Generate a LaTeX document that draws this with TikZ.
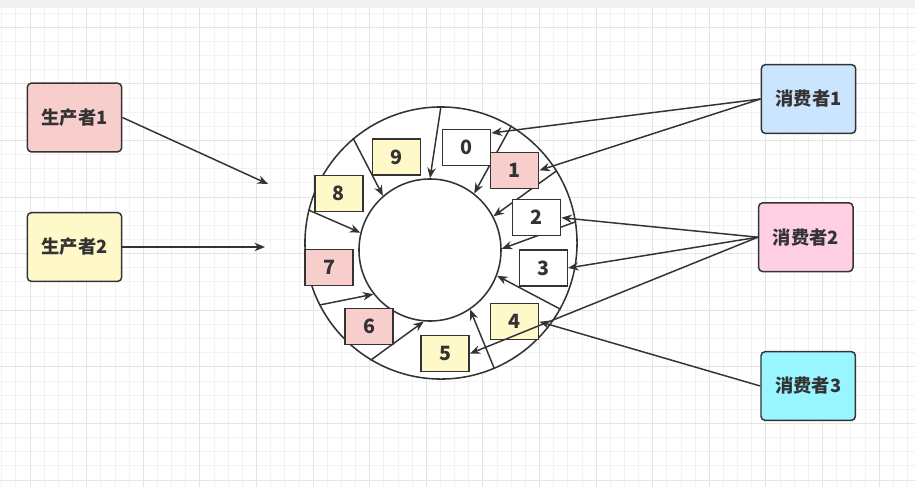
\documentclass[tikz,border=0pt]{standalone}
\usepackage{fontspec}
\setmainfont{Noto Sans CJK SC}
\usetikzlibrary{arrows.meta}
\definecolor{ink}{HTML}{333333}
\definecolor{rosefill}{HTML}{F8CECC}
\definecolor{lemonfill}{HTML}{FFF9C9}
\definecolor{skyfill}{HTML}{CCE5FF}
\definecolor{pinkfill}{HTML}{FFD0E4}
\definecolor{cyanfill}{HTML}{99F5FF}
\definecolor{gridminor}{HTML}{F2F2F2}
\definecolor{gridmajor}{HTML}{E4E4E4}
\begin{document}
\begin{tikzpicture}
  [x=0.025cm,y=-0.025cm,line width=1.05pt,draw=ink,
   every node/.style={draw=ink,text=ink,inner sep=0,font=\bfseries\fontsize{13}{15}\selectfont},
   actor/.style={rounded corners=3pt,minimum width=2.36cm,minimum height=1.72cm},
   slot/.style={minimum width=1.2cm,minimum height=0.9cm,font=\bfseries\fontsize{14}{16}\selectfont},
   ring/.style={circle,fill=white,line width=1.1pt},
   tip/.style={draw=ink,-{Stealth[length=7.5pt,width=6pt]}}]
  % canvas
  \useasboundingbox (0,0) rectangle (915,487);
  \fill[white] (0,0) rectangle (915,487);
  \foreach \i in {0,...,64} \draw[gridminor,line width=0.5pt] ({1.7+14.15*\i},8) -- ({1.7+14.15*\i},487);
  \foreach \i in {0,...,34} \draw[gridminor,line width=0.5pt] (0,{12.95+14.15*\i}) -- (915,{12.95+14.15*\i});
  \foreach \i in {0,...,16} \draw[gridmajor,line width=0.5pt] ({30+56.6*\i},8) -- ({30+56.6*\i},487);
  \foreach \i in {0,...,8} \draw[gridmajor,line width=0.5pt] (0,{27.1+56.6*\i}) -- (915,{27.1+56.6*\i});
  \fill[black!6] (0,0) rectangle (915,8);

  % ring buffer
  \node[ring,minimum size=6.8cm] (outer) at (441,243) {};
  \node[ring,minimum size=3.55cm] (inner) at (430,250) {};

\path[every edge/.style={tip}]
    (outer.90) edge (inner.90)
    (outer.59) edge (inner.52)
    (outer.32) edge (inner.28)
    (outer.9) edge (inner.1)
    (outer.-29) edge (inner.-21)
    (outer.-67) edge (inner.-56)
    (outer.239) edge (inner.265)
    (outer.207) edge (inner.218)
    (outer.166) edge (inner.166)
    (outer.130) edge (inner.131)
    ;

  \node[slot,fill=white] (s0) at (466.7,147.3) {0};
  \node[slot,fill=rosefill] (s1) at (514.7,170.3) {1};
  \node[slot,fill=white] (s2) at (536.7,217.7) {2};
  \node[slot,fill=white] (s3) at (543.3,268) {3};
  \node[slot,fill=lemonfill] (s4) at (514.7,321.7) {4};
  \node[slot,fill=lemonfill] (s5) at (445,353.7) {5};
  \node[slot,fill=rosefill] (s6) at (369,326.3) {6};
  \node[slot,fill=rosefill] (s7) at (329.2,267.7) {7};
  \node[slot,fill=lemonfill] (s8) at (338.8,193.3) {8};
  \node[slot,fill=lemonfill] (s9) at (396.3,157) {9};

  % producers and consumers
  \node[actor,fill=rosefill] (p1) at (74.5,117.5) {生产者1};
  \node[actor,fill=lemonfill] (p2) at (74.5,247) {生产者2};
  \node[actor,fill=skyfill] (c1) at (808.5,99) {消费者1};
  \node[actor,fill=pinkfill] (c2) at (805.8,237.2) {消费者2};
  \node[actor,fill=cyanfill] (c3) at (808.2,386) {消费者3};
  \coordinate (in1) at (268,184);
  \coordinate (in2) at (265,247);

\path[every edge/.style={tip}]
    (p1.east) edge (in1)
    (p2.east) edge (in2)
    (c1.west) edge (s0.30)
    (c1.west) edge (s1.east)
    (c2.west) edge (s2.east)
    (c2.west) edge (s3.east)
    (c2.west) edge (s5.east)
    (c3.west) edge (s4.east)
    ;

\end{tikzpicture}
\end{document}
